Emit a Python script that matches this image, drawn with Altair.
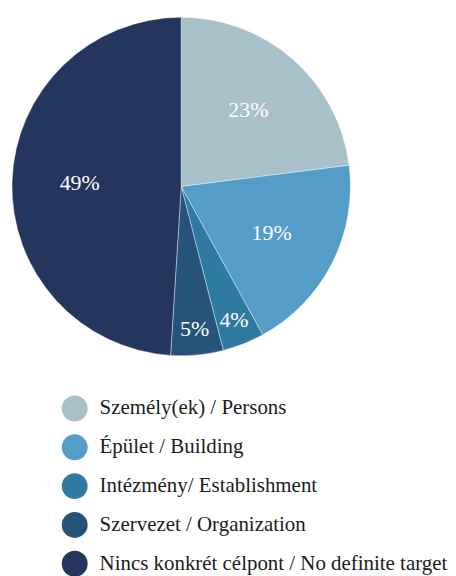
import altair as alt
import pandas as pd

categories = [
    "Személy(ek) / Persons",
    "Épület / Building",
    "Intézmény/ Establishment",
    "Szervezet / Organization",
    "Nincs konkrét célpont / No definite target",
]
values = [23, 19, 4, 5, 49]
colors = ["#a7c0ca", "#559dc9", "#2e7aa1", "#27537b", "#24365e"]

df = pd.DataFrame({"category": categories, "value": values, "idx": list(range(len(categories)))})

FONT = "Liberation Serif"

color = alt.Color(
    "category:N",
    scale=alt.Scale(domain=categories, range=colors),
    sort=categories,
    legend=alt.Legend(
        title=None,
        orient="none",
        legendX=50,
        legendY=380,
        direction="vertical",
        symbolType="circle",
        symbolSize=676,
        symbolStrokeWidth=0,
        symbolOpacity=1,
        rowPadding=13,
        labelOffset=12,
        labelFont=FONT,
        labelFontSize=21,
        labelColor="#1c1c1c",
        labelLimit=420,
        padding=0,
    ),
)

base = alt.Chart(df).encode(
    theta=alt.Theta("value:Q", stack=True),
    order=alt.Order("idx:Q"),
)

arcs = base.mark_arc(outerRadius=170, stroke="#ffffff", strokeWidth=0.4).encode(color=color)

big = base.transform_calculate(
    label="datum.value >= 10 ? datum.value + '%' : ''"
).mark_text(radius=102, font=FONT, fontSize=22, color="#ffffff").encode(text=alt.Text("label:N"))

small = base.transform_calculate(
    label="datum.value < 10 ? datum.value + '%' : ''"
).mark_text(radius=144, font=FONT, fontSize=22, color="#ffffff").encode(text=alt.Text("label:N"))

chart = (
    alt.layer(arcs, big, small)
    .properties(width=340, height=340, padding={"left": 3, "top": 7, "right": 0, "bottom": 0})
    .configure_view(stroke=None)
)

chart.save("out.html", embed_options={"renderer": "svg", "actions": False})
